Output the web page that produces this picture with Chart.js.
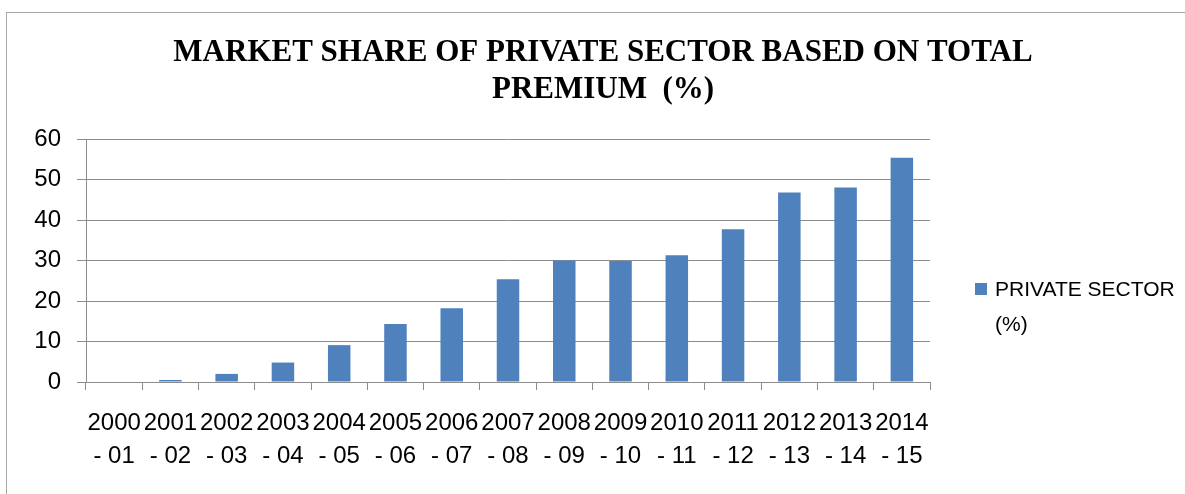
<!DOCTYPE html>
<html>
<head>
<meta charset="utf-8">
<script src="https://cdn.jsdelivr.net/npm/chart.js@4.4.1/dist/chart.umd.min.js"></script>
<style>
    html, body { margin: 0; padding: 0; background: #ffffff; overflow: hidden; }
    #wrap { position: relative; width: 1185px; height: 494px; }
    #frame {
        position: absolute; left: 6px; top: 12px; width: 1300px; height: 600px;
        border: 1px solid #a6a6a6; box-sizing: border-box; pointer-events: none;
    }
    canvas { position: absolute; left: 0; top: 0; }
</style>
</head>
<body>
<div id="wrap">
    <div id="frame"></div>
    <canvas id="chart" width="1185" height="494"></canvas>
</div>
<script>
// Chart data
const titleLines = ['MARKET SHARE OF PRIVATE SECTOR BASED ON TOTAL', 'PREMIUM  (%)'];
const seriesName = 'PRIVATE SECTOR (%)';
const startYears = ['2000', '2001', '2002', '2003', '2004', '2005', '2006', '2007',
                    '2008', '2009', '2010', '2011', '2012', '2013', '2014'];
const endYears = ['- 01', '- 02', '- 03', '- 04', '- 05', '- 06', '- 07', '- 08',
                  '- 09', '- 10', '- 11', '- 12', '- 13', '- 14', '- 15'];
const privateShare = [0, 0.5, 2.0, 4.8, 9.1, 14.3, 18.2, 25.4, 30.0, 29.9, 31.3, 37.7, 46.8, 48.0, 55.4];
const yTicks = [0, 10, 20, 30, 40, 50, 60];

const BAR_COLOR = '#4f81bd';
const GRID_COLOR = '#8c8c8c';
const TEXT_FONT = '"Liberation Sans", Arial, sans-serif';

// Title is centred over the whole chart box (plot + legend), as in Excel
const boxTitle = {
    id: 'boxTitle',
    afterDraw(chart) {
        const ctx = chart.ctx;
        ctx.save();
        ctx.font = 'bold 31px "Liberation Serif", "Times New Roman", serif';
        ctx.fillStyle = '#000000';
        ctx.textAlign = 'center';
        ctx.textBaseline = 'middle';
        titleLines.forEach((t, i) => ctx.fillText(t, 603, 53 + i * 37));
        ctx.restore();
    }
};

// Legend to the right of the plot, with the label wrapped like the original
const sideLegend = {
    id: 'sideLegend',
    afterDraw(chart) {
        const ctx = chart.ctx;
        const ds = chart.data.datasets[0];
        const x = 975, y = 283, box = 12, lineH = 35, maxW = 185;

        ctx.save();
        ctx.fillStyle = ds.backgroundColor;
        ctx.fillRect(x, y, box, box);

        ctx.font = '21px ' + TEXT_FONT;
        ctx.fillStyle = '#000000';
        ctx.textBaseline = 'middle';

        // simple word wrap
        const words = ds.label.split(' ');
        const lines = [];
        let line = '';
        words.forEach(w => {
            const test = line ? line + ' ' + w : w;
            if (ctx.measureText(test).width > maxW && line) {
                lines.push(line);
                line = w;
            } else {
                line = test;
            }
        });
        if (line) lines.push(line);

        lines.forEach((l, i) => ctx.fillText(l, x + box + 8, y + box / 2 + 1 + i * lineH));
        ctx.restore();
    }
};

const ctx = document.getElementById('chart').getContext('2d');

new Chart(ctx, {
    type: 'bar',
    data: {
        labels: startYears.map((s, i) => [s, endYears[i]]),
        datasets: [{
            label: seriesName,
            data: privateShare,
            backgroundColor: BAR_COLOR,
            borderWidth: 0,
            barPercentage: 0.4,
            categoryPercentage: 1.0
        }]
    },
    options: {
        responsive: false,
        animation: false,
        devicePixelRatio: 1,
        layout: {
            padding: { left: 0, right: 255, top: 139, bottom: 0 }
        },
        plugins: {
            legend: { display: false },
            tooltip: { enabled: false },
            title: { display: false }
        },
        scales: {
            x: {
                grid: {
                    display: true,
                    drawOnChartArea: false,
                    drawTicks: true,
                    tickLength: 8,
                    color: GRID_COLOR,
                    offset: true
                },
                border: { display: true, color: GRID_COLOR, width: 1 },
                ticks: {
                    color: '#000000',
                    maxRotation: 0,
                    autoSkip: false,
                    padding: 17,
                    font: { family: TEXT_FONT, size: 24, lineHeight: 1.375 }
                },
                afterFit(scale) {
                    scale.height = 494 - 382;
                }
            },
            y: {
                min: 0,
                max: 60,
                afterBuildTicks(scale) {
                    scale.ticks = yTicks.map(v => ({ value: v }));
                },
                grid: {
                    color: GRID_COLOR,
                    lineWidth: 1,
                    tickLength: 9,
                    drawTicks: true
                },
                border: { display: true, color: GRID_COLOR, width: 1 },
                ticks: {
                    color: '#000000',
                    padding: 16,
                    font: { family: TEXT_FONT, size: 24 }
                },
                afterFit(scale) {
                    scale.width = 86;
                }
            }
        }
    },
    plugins: [boxTitle, sideLegend]
});
</script>
</body>
</html>
